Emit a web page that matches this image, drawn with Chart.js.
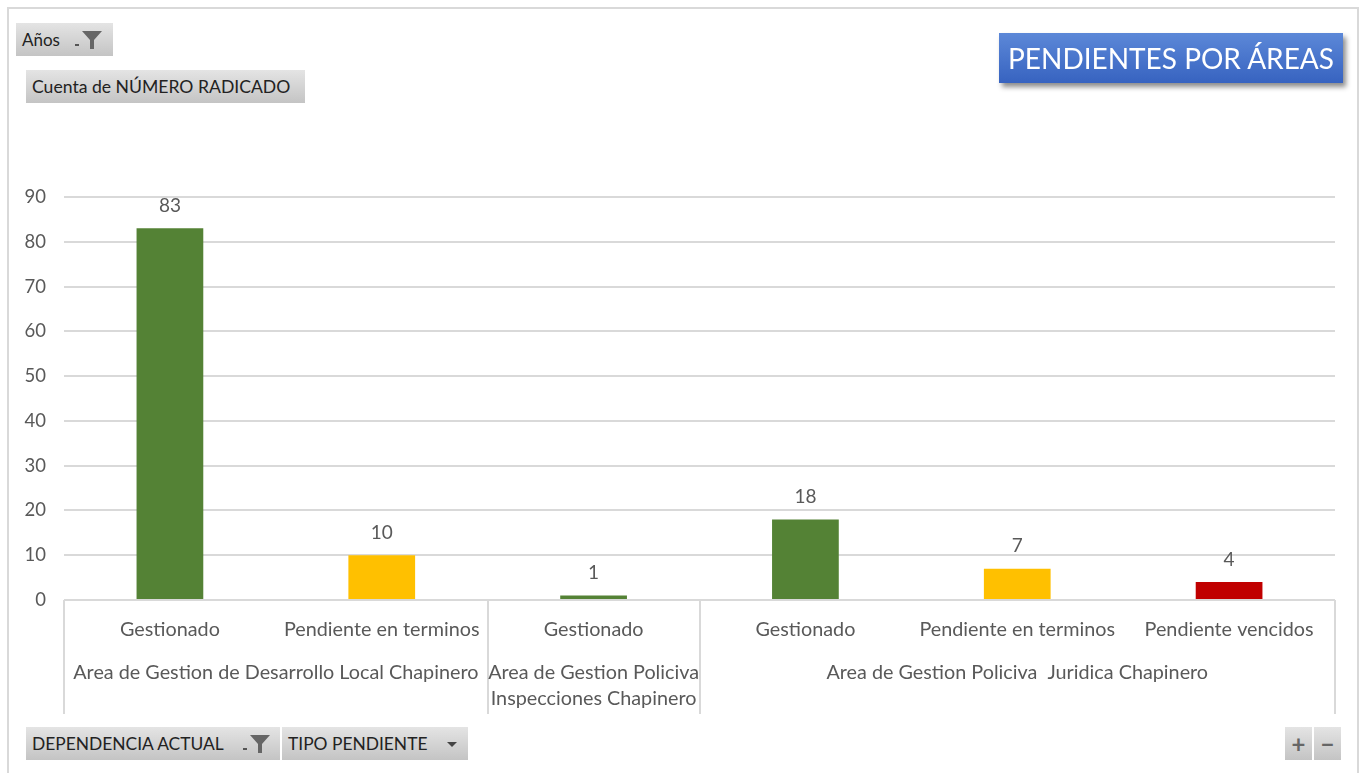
<!DOCTYPE html>
<html>
<head>
<meta charset="utf-8">
<script src="https://cdn.jsdelivr.net/npm/chart.js@4/dist/chart.umd.min.js"></script>
<style>
  html, body { margin: 0; padding: 0; background: #fff; }
  body { width: 1363px; height: 773px; position: relative; overflow: hidden; font-family: Lato, "Open Sans", sans-serif; }
  .frame { position: absolute; left: 7px; top: 7px; width: 1352px; height: 770px; border: 2px solid #d9d9d9; box-sizing: border-box; }
  #wrap { position: absolute; left: 0; top: 0; width: 1363px; height: 773px; }
  .btn {
    position: absolute; height: 33px; box-sizing: border-box;
    background: linear-gradient(#e4e4e4, #c4c4c4);
    color: #222; font-size: 17px; line-height: 33px; padding-left: 6px; white-space: nowrap;
  }
  .btn svg { position: absolute; top: 7px; }
  .title {
    position: absolute; left: 999px; top: 33px; width: 344px; height: 50px;
    background: linear-gradient(#5c88d8, #3763c0);
    color: #fff; font-size: 28px; line-height: 50px; text-align: center;
    box-shadow: 3px 4px 5px rgba(0,0,0,0.45);
  }
</style>
</head>
<body>
<div class="frame"></div>
<div id="wrap"><canvas id="myChart" width="1363" height="773"></canvas></div>

<div class="btn" style="left:16px;top:23px;width:97px;">Años
  <svg width="30" height="20" style="left:58px"><rect x="1" y="14" width="4" height="2" fill="#555"/><path d="M8 1 H28 L20 10 V19 H16 V10 Z" fill="#666"/></svg>
</div>
<div class="btn" style="left:26px;top:70px;width:279px;font-size:17.6px;">Cuenta de NÚMERO RADICADO</div>
<div class="title">PENDIENTES POR ÁREAS</div>

<div class="btn" style="left:26px;top:727px;width:254px;font-size:17.4px;">DEPENDENCIA ACTUAL
  <svg width="34" height="20" style="left:214px"><rect x="3" y="14" width="4" height="2" fill="#555"/><path d="M10 1 H30 L22 10 V19 H18 V10 Z" fill="#666"/></svg>
</div>
<div class="btn" style="left:282px;top:727px;width:186px;font-size:17.4px;">TIPO PENDIENTE
  <svg width="14" height="20" style="left:164px"><path d="M1 8 H11 L6 13 Z" fill="#444"/></svg>
</div>
<div class="btn" style="left:1285px;top:727px;width:27px;padding:0;text-align:center;font-size:24px;color:#666;font-weight:bold;">+</div>
<div class="btn" style="left:1314px;top:727px;width:27px;padding:0;text-align:center;font-size:24px;color:#666;font-weight:bold;">−</div>

<script>
const tipos = ["Gestionado", "Pendiente en terminos", "Gestionado", "Gestionado", "Pendiente en terminos", "Pendiente vencidos"];
const valores = [83, 10, 1, 18, 7, 4];
const colores = ["#548235", "#FFC000", "#548235", "#548235", "#FFC000", "#C00000"];
const areas = [
  { label: ["Area de Gestion de Desarrollo Local Chapinero"], from: 0, to: 1 },
  { label: ["Area de Gestion Policiva", "Inspecciones Chapinero"], from: 2, to: 2 },
  { label: ["Area de Gestion Policiva  Juridica Chapinero"], from: 3, to: 5 }
];
const yTicks = [0, 10, 20, 30, 40, 50, 60, 70, 80, 90];

const FONT = "Lato, 'Open Sans', sans-serif";
const GRAY = "#595959";

// valores encima de las barras + cajas de áreas
const extras = {
  id: "extras",
  afterDatasetsDraw(chart) {
    const ctx = chart.ctx;
    const meta = chart.getDatasetMeta(0);
    ctx.save();
    ctx.font = "19px " + FONT;
    ctx.fillStyle = GRAY;
    ctx.textAlign = "center";
    ctx.textBaseline = "bottom";
    meta.data.forEach((bar, i) => {
      ctx.fillText(String(valores[i]), bar.x, bar.y - 13);
    });
    ctx.restore();
  },
  afterDraw(chart) {
    const ctx = chart.ctx;
    const x = chart.scales.x;
    const base = chart.chartArea.bottom;
    const half = (x.getPixelForValue(1) - x.getPixelForValue(0)) / 2;
    ctx.save();
    ctx.strokeStyle = "#d9d9d9";
    ctx.lineWidth = 2;
    const edges = [x.getPixelForValue(0) - half];
    areas.forEach(a => edges.push(x.getPixelForValue(a.to) + half));
    edges.forEach(px => {
      ctx.beginPath();
      ctx.moveTo(Math.round(px), base);
      ctx.lineTo(Math.round(px), base + 114);
      ctx.stroke();
    });
    ctx.font = "19.8px " + FONT;
    ctx.fillStyle = GRAY;
    ctx.textAlign = "center";
    ctx.textBaseline = "middle";
    areas.forEach(a => {
      const cx = (x.getPixelForValue(a.from) + x.getPixelForValue(a.to)) / 2;
      a.label.forEach((line, k) => ctx.fillText(line, cx, base + 73 + k * 26));
    });
    ctx.restore();
  }
};

const ctx = document.getElementById("myChart").getContext("2d");
const myChart = new Chart(ctx, {
  type: "bar",
  data: {
    labels: tipos,
    datasets: [{
      label: "Cuenta de NÚMERO RADICADO",
      data: valores,
      backgroundColor: colores,
      borderWidth: 0,
      categoryPercentage: 1,
      barPercentage: 0.315
    }]
  },
  options: {
    responsive: false,
    animation: false,
    layout: { padding: { left: 0, right: 28, top: 197, bottom: 0 } },
    plugins: { legend: { display: false }, tooltip: { enabled: false } },
    scales: {
      x: {
        grid: { display: false, drawTicks: false },
        border: { display: false },
        ticks: { color: GRAY, font: { family: FONT, size: 19.8 }, padding: 18, maxRotation: 0, autoSkip: false },
        afterFit(scale) { scale.height = 173; }
      },
      y: {
        min: 0, max: 90,
        afterBuildTicks(scale) { scale.ticks = yTicks.map(v => ({ value: v })); },
        grid: { color: "#d9d9d9", lineWidth: 2, drawTicks: false },
        border: { display: false },
        ticks: { color: GRAY, font: { family: FONT, size: 18.5 }, padding: 18 },
        afterFit(scale) { scale.width = 64; }
      }
    }
  },
  plugins: [extras]
});
</script>
</body>
</html>
